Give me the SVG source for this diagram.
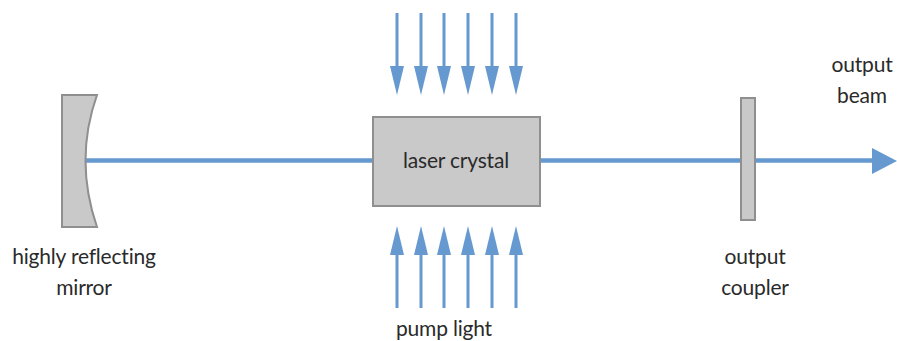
<svg xmlns="http://www.w3.org/2000/svg" width="897" height="341" viewBox="0 0 897 341">
<style>
.s{fill:#c9c9c9;stroke:#8f8f8f;stroke-width:2}
.t{font-family:"Lato","Open Sans","Liberation Sans",sans-serif;font-size:21px;fill:#2a2a2a;text-anchor:middle;letter-spacing:-0.2px}
.b{stroke:#6699cf;stroke-width:4.500;fill:none}
.p{stroke:#6699cf;stroke-width:3;fill:none}
.h{fill:#6699cf}
</style>
<defs>
<path id="dn" class="h" d="M-7 0H7L0 29Z"/>
<path id="up" class="h" d="M-7 0H7L0 -29Z"/>
</defs>
<rect width="897" height="341" fill="#fff"/>
<g id="connectors">
<path class="b" d="M86 160.500H373M540 160.500H741M755 160.500H874"/>
<path class="h" d="M872 148L897 161L872 174Z"/>
<path class="p" d="M397 13V67M421 13V67M444 13V67M468 13V67M492 13V67M516 13V67"/>
<use href="#dn" x="397" y="66"/><use href="#dn" x="421" y="66"/><use href="#dn" x="444" y="66"/><use href="#dn" x="468" y="66"/><use href="#dn" x="492" y="66"/><use href="#dn" x="516" y="66"/>
<path class="p" d="M397 254V308M421 254V308M444 254V308M468 254V308M492 254V308M516 254V308"/>
<use href="#up" x="397" y="255"/><use href="#up" x="421" y="255"/><use href="#up" x="444" y="255"/><use href="#up" x="468" y="255"/><use href="#up" x="492" y="255"/><use href="#up" x="516" y="255"/>
</g>
<g id="mirror">
<path class="s" d="M62 95H97Q74 160 97 227H62Z"/>
<text class="t" x="84" y="264">highly reflecting</text>
<text class="t" x="84" y="295">mirror</text>
</g>
<g id="crystal">
<rect class="s" x="373" y="117" width="167" height="89"/>
<text class="t" x="456" y="168">laser crystal</text>
</g>
<g id="coupler">
<rect class="s" x="741" y="98" width="14" height="122"/>
<text class="t" x="755" y="264">output</text>
<text class="t" x="755" y="295">coupler</text>
</g>
<g id="beam-label">
<text class="t" x="862" y="72">output</text>
<text class="t" x="862" y="103">beam</text>
</g>
<g id="pump-label">
<text class="t" x="444" y="336">pump light</text>
</g>
</svg>
